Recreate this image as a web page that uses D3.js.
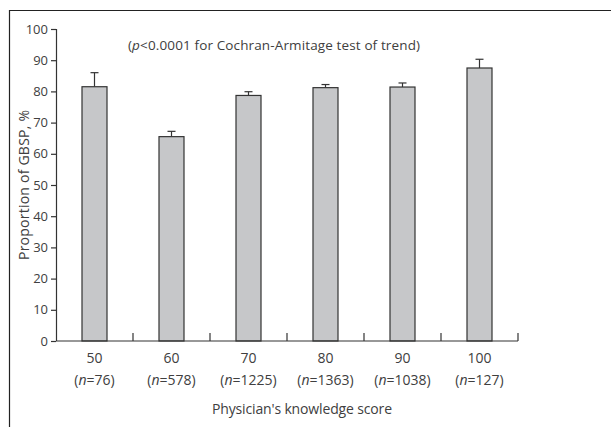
<!DOCTYPE html>
<html>
<head>
<meta charset="utf-8">
<script src="https://cdn.jsdelivr.net/npm/d3@7"></script>
<style>
  body { margin: 0; background: #fff; }
  svg text { font-family: "Open Sans", "DejaVu Sans", sans-serif; fill: #404040; }
</style>
</head>
<body>
<svg id="Chart"></svg>
<script>
let scores = ["50", "60", "70", "80", "90", "100"];
let sampleSizes = [76, 578, 1225, 1363, 1038, 127];
let proportions = [81.5, 65.5, 78.7, 81.2, 81.4, 87.5];
let upperErrors = [86.0, 67.2, 79.9, 82.2, 82.7, 90.3];
let yTicks = [0, 10, 20, 30, 40, 50, 60, 70, 80, 90, 100];

function getConfig() {
    let width = 611;
    let height = 427;
    let margin = { top: 29, bottom: 86, left: 56, right: 93 };
    let bodyWidth = width - margin.left - margin.right;
    let bodyHeight = height - margin.top - margin.bottom;
    let container = d3.select("#Chart")
        .attr("width", width)
        .attr("height", height);
    return { width, height, margin, bodyWidth, bodyHeight, container };
}

function getScales(config) {
    let { bodyWidth, bodyHeight } = config;
    let xScale = d3.scaleBand()
        .range([0, bodyWidth])
        .domain(scores)
        .padding(0);
    let yScale = d3.scaleLinear()
        .range([bodyHeight, 0])
        .domain([0, 100]);
    return { xScale, yScale };
}

function drawFrame(config) {
    // outer figure frame, open to the right and bottom
    config.container.append("path")
        .attr("d", "M9.5,427 V10.5 H611")
        .attr("fill", "none")
        .attr("stroke", "#222")
        .attr("stroke-width", 1.2);
}

function drawBars(scales, config) {
    let { margin, container } = config;
    let { xScale, yScale } = scales;
    let body = container.append("g")
        .attr("transform", `translate(${margin.left},${margin.top})`);
    let barWidth = 25;
    let data = scores.map((s, i) => ({ score: s, value: proportions[i], upper: upperErrors[i] }));
    let mid = d => xScale(d.score) + xScale.bandwidth() / 2;

    let groups = body.selectAll(".bar").data(data).enter().append("g");

    groups.append("line")
        .attr("x1", mid).attr("x2", mid)
        .attr("y1", d => yScale(d.value))
        .attr("y2", d => yScale(d.upper))
        .attr("stroke", "#333")
        .attr("stroke-width", 1.2);

    groups.append("line")
        .attr("x1", d => mid(d) - 4)
        .attr("x2", d => mid(d) + 4)
        .attr("y1", d => yScale(d.upper))
        .attr("y2", d => yScale(d.upper))
        .attr("stroke", "#333")
        .attr("stroke-width", 1.2);

    groups.append("rect")
        .attr("x", d => mid(d) - barWidth / 2)
        .attr("width", barWidth)
        .attr("y", d => yScale(d.value))
        .attr("height", d => yScale(0) - yScale(d.value))
        .attr("fill", "#c6c7c9")
        .attr("stroke", "#333")
        .attr("stroke-width", 1.2);
}

function drawAxes(scales, config) {
    let { xScale, yScale } = scales;
    let { container, margin, bodyWidth, bodyHeight } = config;

    let axisY = d3.axisLeft(yScale)
        .tickValues(yTicks)
        .tickSize(5)
        .tickPadding(3);
    let gy = container.append("g")
        .attr("transform", `translate(${margin.left},${margin.top})`)
        .call(axisY);
    gy.select(".domain").attr("d", `M-5,0.5H0.5V${bodyHeight}`);
    gy.selectAll("path, line").attr("stroke", "#333").attr("stroke-width", 1.2);
    gy.selectAll("text")
        .style("font-size", "13px")
        .attr("fill", "#404040");

    // x axis: baseline with upward ticks at band boundaries
    let gx = container.append("g")
        .attr("transform", `translate(${margin.left},${margin.top + bodyHeight})`);
    gx.append("line")
        .attr("x1", 0).attr("x2", bodyWidth)
        .attr("stroke", "#333").attr("stroke-width", 1.2);
    gx.selectAll(".xtick").data(scores).enter().append("line")
        .attr("x1", d => xScale(d) + xScale.bandwidth())
        .attr("x2", d => xScale(d) + xScale.bandwidth())
        .attr("y1", 0).attr("y2", -8)
        .attr("stroke", "#333").attr("stroke-width", 1.2);

    let labels = gx.selectAll(".xlabel").data(scores).enter().append("text")
        .attr("text-anchor", "middle")
        .style("font-size", "14px");
    labels.append("tspan")
        .attr("x", d => xScale(d) + xScale.bandwidth() / 2)
        .attr("y", 22)
        .text(d => d);
    let n = labels.append("tspan")
        .attr("x", d => xScale(d) + xScale.bandwidth() / 2)
        .attr("y", 44);
    n.append("tspan").text("(");
    n.append("tspan").attr("font-style", "italic").text("n");
    n.append("tspan").text((d, i) => "=" + sampleSizes[i] + ")");

    container.append("text")
        .attr("x", 302)
        .attr("y", 414)
        .attr("text-anchor", "middle")
        .style("font-size", "14px")
        .attr("textLength", 180)
        .text("Physician's knowledge score");

    container.append("text")
        .attr("transform", `translate(29,${margin.top + bodyHeight / 2}) rotate(-90)`)
        .attr("text-anchor", "middle")
        .style("font-size", "14px")
        .attr("textLength", 150)
        .text("Proportion of GBSP, %");
}

function drawNote(config) {
    let t = config.container.append("text")
        .attr("x", 128)
        .attr("y", 50)
        .style("font-size", "13.5px")
        .attr("textLength", 292);
    t.append("tspan").text("(");
    t.append("tspan").attr("font-style", "italic").text("p");
    t.append("tspan").text("<0.0001 for Cochran-Armitage test of trend)");
}

function drawChart() {
    let config = getConfig();
    let scales = getScales(config);
    drawFrame(config);
    drawBars(scales, config);
    drawAxes(scales, config);
    drawNote(config);
}

drawChart();
</script>
</body>
</html>
